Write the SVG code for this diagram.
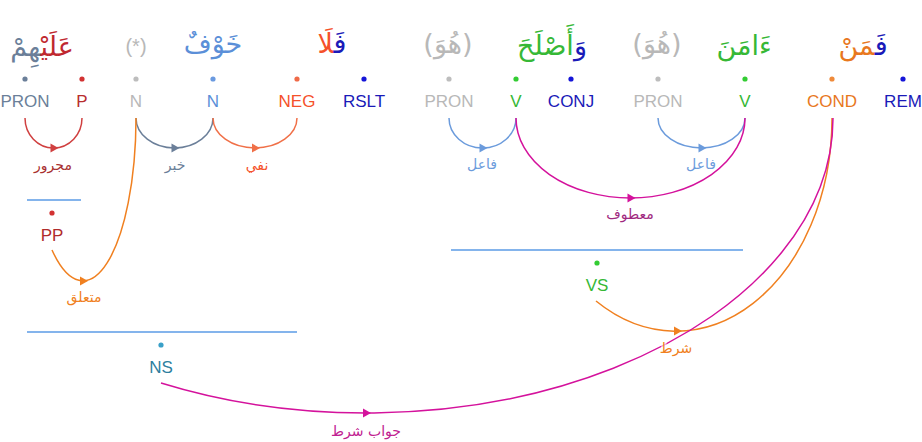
<svg xmlns="http://www.w3.org/2000/svg" xmlns:xlink="http://www.w3.org/1999/xlink" width="922" height="442" viewBox="0 0 922 442">
<style>
.ar{font-family:"DejaVu Sans",sans-serif;font-size:27px;direction:rtl;text-anchor:middle}
.tag{font-family:"Liberation Sans",Arial,sans-serif;font-size:17px;text-anchor:middle}
.lbl{font-family:"DejaVu Sans",sans-serif;font-size:14px;direction:rtl;text-anchor:middle;paint-order:stroke;stroke:#fff;stroke-width:4px;stroke-opacity:0.6}
.arc{fill:none;stroke-width:1.5}
.hl{stroke:#5b9be6;stroke-width:1.5}
</style>
<defs>
<path id="ah" d="M-3,-4.5 L5,0 L-3,4.5 Z"/>
</defs>
<rect width="922" height="442" fill="#fff"/>

<!-- words -->
<g id="word1"><text class="ar" x="42" y="56" fill="#6b7f99"><tspan fill="#c0282f">عَلَيْ</tspan><tspan fill="#6b7f99">هِمْ</tspan></text></g>
<g id="word2"><text class="tag" x="136" y="53" fill="#b8b8b8" style="font-size:20px">(*)</text></g>
<g id="word3"><text class="ar" x="213" y="53" fill="#5b8fd8">خَوْفٌ</text></g>
<g id="word4"><text class="ar" x="332" y="53" fill="#f5512a"><tspan fill="#1a1ab8">فَ</tspan><tspan fill="#f5512a">لَا</tspan></text></g>
<g id="word5"><text class="ar" x="448" y="53" fill="#b8b8b8">(هُوَ)</text></g>
<g id="word6"><text class="ar" x="552" y="55" fill="#36b836"><tspan fill="#1a1ab8">وَ</tspan><tspan fill="#36b836">أَصْلَحَ</tspan></text></g>
<g id="word7"><text class="ar" x="657" y="53" fill="#b8b8b8">(هُوَ)</text></g>
<g id="word8"><text class="ar" x="744" y="55" fill="#36b836">ءَامَنَ</text></g>
<g id="word9"><text class="ar" x="863" y="55" fill="#e8781e"><tspan fill="#1a1ab8">فَ</tspan><tspan fill="#e8781e">مَنْ</tspan></text></g>

<!-- segment nodes -->
<g id="seg-pron1"><circle cx="25" cy="79" r="2.6" fill="#6b7f99"/><text class="tag" x="25" y="107" fill="#6b7f99">PRON</text></g>
<g id="seg-p"><circle cx="82" cy="79" r="2.6" fill="#d23232"/><text class="tag" x="82" y="107" fill="#b82e2e">P</text></g>
<g id="seg-n1"><circle cx="136" cy="79" r="2.6" fill="#bdbdbd"/><text class="tag" x="136" y="107" fill="#b8b8b8">N</text></g>
<g id="seg-n2"><circle cx="213" cy="79" r="2.6" fill="#6a9ae0"/><text class="tag" x="213" y="107" fill="#5b8fd8">N</text></g>
<g id="seg-neg"><circle cx="297" cy="79" r="2.6" fill="#ef6a48"/><text class="tag" x="297" y="107" fill="#f5512a">NEG</text></g>
<g id="seg-rslt"><circle cx="364" cy="79" r="2.6" fill="#1515d8"/><text class="tag" x="364" y="107" fill="#1a1ab8">RSLT</text></g>
<g id="seg-pron2"><circle cx="449" cy="79" r="2.6" fill="#bdbdbd"/><text class="tag" x="449" y="107" fill="#b8b8b8">PRON</text></g>
<g id="seg-v1"><circle cx="516" cy="79" r="2.6" fill="#33cc33"/><text class="tag" x="516" y="107" fill="#36b836">V</text></g>
<g id="seg-conj"><circle cx="571" cy="79" r="2.6" fill="#1515d8"/><text class="tag" x="571" y="107" fill="#1a1ab8">CONJ</text></g>
<g id="seg-pron3"><circle cx="658" cy="79" r="2.6" fill="#bdbdbd"/><text class="tag" x="658" y="107" fill="#b8b8b8">PRON</text></g>
<g id="seg-v2"><circle cx="745" cy="79" r="2.6" fill="#33cc33"/><text class="tag" x="745" y="107" fill="#36b836">V</text></g>
<g id="seg-cond"><circle cx="832" cy="79" r="2.6" fill="#ef8a3a"/><text class="tag" x="832" y="107" fill="#e8781e">COND</text></g>
<g id="seg-rem"><circle cx="903" cy="79" r="2.6" fill="#1515d8"/><text class="tag" x="903" y="107" fill="#1a1ab8">REM</text></g>

<!-- phrase nodes -->
<g id="phrase-pp"><line class="hl" x1="27" y1="200" x2="81" y2="200"/><circle cx="52" cy="213" r="2.6" fill="#d23232"/><text class="tag" x="52" y="241" fill="#b02b2b">PP</text></g>
<g id="phrase-vs"><line class="hl" x1="451" y1="250" x2="743" y2="250"/><circle cx="597" cy="263" r="2.6" fill="#33cc33"/><text class="tag" x="597" y="291" fill="#36b836">VS</text></g>
<g id="phrase-ns"><line class="hl" x1="27" y1="332" x2="297" y2="332"/><circle cx="161" cy="345" r="2.6" fill="#3aa0c8"/><text class="tag" x="161" y="373" fill="#2d7fa0">NS</text></g>

<!-- connectors -->
<g id="connectors">
<path class="arc" stroke="#d04040" d="M25,118 A28.5,30 0 0 0 82,118"/>
<use xlink:href="#ah" x="53.5" y="148" fill="#d04040"/>
<path class="arc" stroke="#6b7f99" d="M136,118 A38.5,30 0 0 0 213,118"/>
<use xlink:href="#ah" x="174.5" y="148" fill="#6b7f99"/>
<path class="arc" stroke="#f07048" d="M213,118 A42,30 0 0 0 297,118"/>
<use xlink:href="#ah" x="255" y="148" fill="#f07048"/>
<path class="arc" stroke="#f08020" d="M52,250 A53,163 0 0 0 136,118"/>
<use xlink:href="#ah" x="83" y="281" fill="#f08020"/>
<path class="arc" stroke="#6b9bdc" d="M449,118 A33.5,30 0 0 0 516,118"/>
<use xlink:href="#ah" x="482.5" y="148" fill="#6b9bdc"/>
<path class="arc" stroke="#6b9bdc" d="M658,118 A43.5,30 0 0 0 745,118"/>
<use xlink:href="#ah" x="701.5" y="148" fill="#6b9bdc"/>
<path class="arc" stroke="#d4129c" d="M516,118 A114.5,80 0 0 0 745,118"/>
<use xlink:href="#ah" x="630.5" y="198" fill="#d4129c"/>
<path class="arc" stroke="#f08020" d="M596,301 A156,213 0 0 0 832,118"/>
<use xlink:href="#ah" x="677" y="331" fill="#f08020"/>
<path class="arc" stroke="#d4129c" d="M161,383 A467,295 0 0 0 833,118"/>
<use xlink:href="#ah" x="366" y="413" fill="#d4129c"/>

<text class="lbl" x="53" y="170" fill="#a83030">مجرور</text>
<text class="lbl" x="175" y="170" fill="#6b7f99">خبر</text>
<text class="lbl" x="257" y="170" fill="#f5512a">نفي</text>
<text class="lbl" x="84" y="302" fill="#f08020">متعلق</text>
<text class="lbl" x="482" y="169" fill="#6b9bdc">فاعل</text>
<text class="lbl" x="701" y="169" fill="#6b9bdc">فاعل</text>
<text class="lbl" x="630" y="219" fill="#a02880">معطوف</text>
<text class="lbl" x="676" y="353" fill="#f08020">شرط</text>
<text class="lbl" x="366" y="436" fill="#c02090">جواب شرط</text>
</g>
</svg>
